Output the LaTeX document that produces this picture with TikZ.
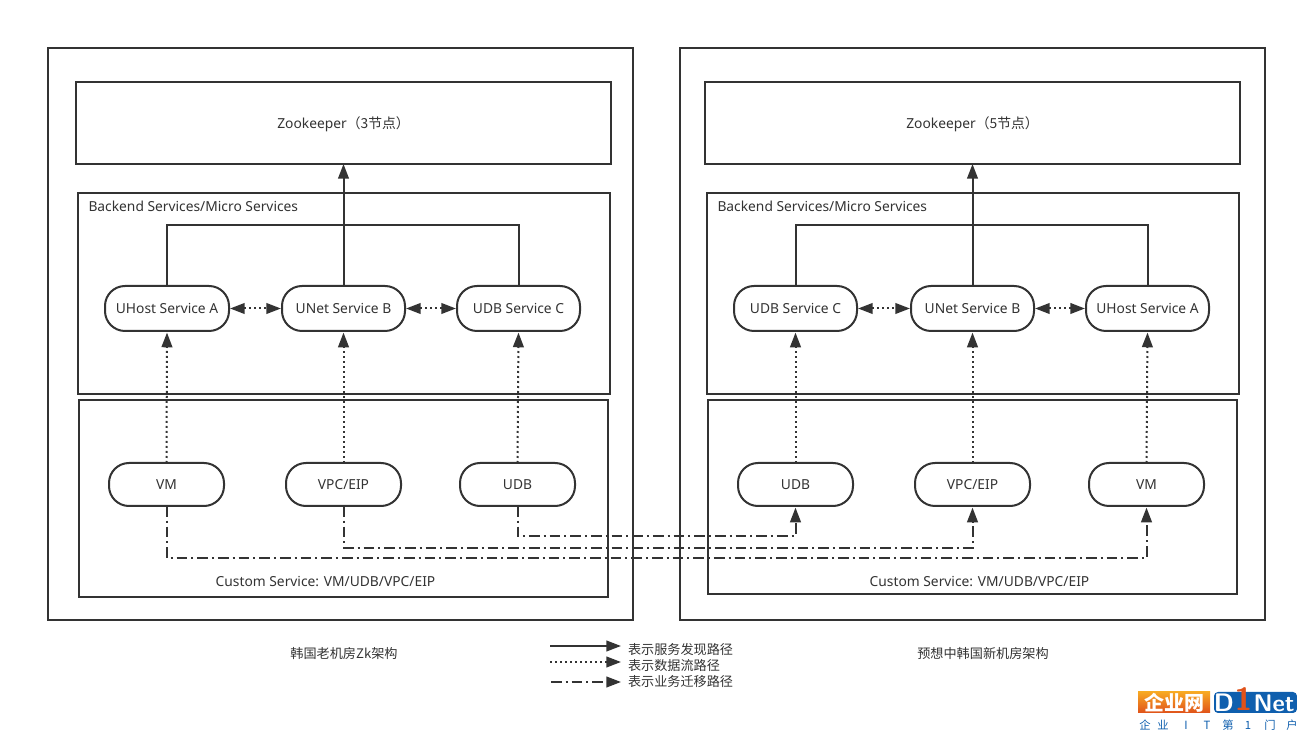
\documentclass[tikz,border=0pt]{standalone}
\usepackage{fontspec}
\setmainfont{Noto Sans}
\newfontfamily\cjk{Noto Sans CJK SC}
\usetikzlibrary{arrows.meta,calc}
\definecolor{ink}{HTML}{333333}
\definecolor{logoblue}{HTML}{0F5FAE}
\definecolor{logoorange}{HTML}{E0521A}
\definecolor{logoyellow}{HTML}{F7A823}
\newcommand{\bx}[7]{%
  \pgfmathsetmacro{\bw}{(#4-#2)*0.75}\pgfmathsetmacro{\bh}{(#5-#3)*0.75}%
  \node[#6,minimum width=\bw pt,minimum height=\bh pt] (#1) at ({(#2+#4)/2},{(#3+#5)/2}) {#7};}
\newcommand{\zk}[1]{\raisebox{-4.3pt}[0pt][0pt]{Zookeeper{\cjk （#1节点）}}}
\tikzset{
  x=0.75pt,y=-0.75pt,
  every node/.style={text=ink,font=\fontsize{10.35pt}{12pt}\selectfont,inner sep=0pt,outer sep=0pt},
  boxnode/.style={draw=ink,line width=1.5pt,fill=white,rectangle},
  pill/.style={draw=ink,line width=1.5pt,fill=white,rectangle,rounded corners=15pt},
  lab/.style={anchor=west},
  wire/.style={draw=ink,line width=1.5pt},
  tip/.style={-{Triangle[length=11pt,width=8pt]},shorten >=1.2pt},
  dots/.style={line width=1.5pt,dash pattern=on 1.5pt off 2.25pt},
  dashdot/.style={line width=1.5pt,dash pattern=on 8pt off 3pt on 1.5pt off 3pt},
  cn/.style={font=\fontsize{9.85pt}{11pt}\cjk\selectfont},
}
\begin{document}
\begin{tikzpicture}
\useasboundingbox (0,0) rectangle (1297,730);
% outer frames
\bx{outerL}{48}{48}{633}{620}{boxnode}{}
\bx{outerR}{680}{48}{1265}{620}{boxnode}{}
% left inner boxes
\bx{zooL}{76}{82}{611}{164}{boxnode}{\zk{3}}
\bx{backL}{78}{193}{610}{394}{boxnode}{}
\bx{custL}{79}{400}{608}{597}{boxnode}{}
% right inner boxes
\bx{zooR}{705}{82}{1240}{164}{boxnode}{\zk{5}}
\bx{backR}{707}{193}{1239}{394}{boxnode}{}
\bx{custR}{708}{400}{1237}{594}{boxnode}{}
\node[lab] (backLabL) at (88.5,206.5) {Backend Services/Micro Services};
\node[lab] (backLabR) at (717.5,206.5) {Backend Services/Micro Services};
\node (custLabL) at (325.5,582) {Custom Service: VM/UDB/VPC/EIP};
\node (custLabR) at (979.5,582) {Custom Service: VM/UDB/VPC/EIP};
% left services
\bx{hostL}{105}{286}{229}{331}{pill}{UHost Service A}
\bx{netL}{282}{286}{405}{331}{pill}{UNet Service B}
\bx{dbL}{457}{286}{580}{331}{pill}{UDB Service C}
\bx{vmL}{109}{463}{224}{506}{pill}{VM}
\bx{vpcL}{286}{463}{401}{506}{pill}{VPC/EIP}
\bx{udbL}{460}{463}{575}{506}{pill}{UDB}
% right services
\bx{dbR}{734}{286}{857}{331}{pill}{UDB Service C}
\bx{netR}{911}{286}{1034}{331}{pill}{UNet Service B}
\bx{hostR}{1086}{286}{1209}{331}{pill}{UHost Service A}
\bx{udbR}{738}{463}{853}{506}{pill}{UDB}
\bx{vpcR}{915}{463}{1030}{506}{pill}{VPC/EIP}
\bx{vmR}{1089}{463}{1204}{506}{pill}{VM}
% discovery paths
\draw[wire,tip,shorten >=0pt] (netL.north) -- (netL.north |- zooL.south);
\draw[wire] (hostL.north) -- ++(0,-61) -| (dbL.north);
\draw[wire,tip,shorten >=0pt] (netR.north) -- (netR.north |- zooR.south);
\draw[wire] (dbR.north) -- ++(0,-61) -| (hostR.north);
% data paths
\foreach \a/\b in {vmL/hostL,vpcL/netL,udbL/dbL,udbR/dbR,vpcR/netR,vmR/hostR}
  \draw[draw=ink,dots,tip] (\a.north) -- (\b.south);
\foreach \a/\b in {hostL/netL,netL/dbL,dbR/netR,netR/hostR}
  \draw[draw=ink,dots,{Triangle[length=11pt,width=8pt]}-{Triangle[length=11pt,width=8pt]},shorten >=0.8pt,shorten <=0.8pt] (\a.east) -- (\b.west);
% migration paths
\draw[draw=ink,dashdot,tip] (udbL.south) -- ++(0,30) -| (udbR.south);
\draw[draw=ink,dashdot,tip] (vpcL.south) -- ++(0,42) -| (vpcR.south);
\draw[draw=ink,dashdot,tip] (vmL.south) -- ++(0,52) -| (vmR.south);
% captions
\node[cn] (capL) at (344,653.5) {韩国老机房Zk架构};
\node[cn] (capR) at (983,653.5) {预想中韩国新机房架构};
% legend
\coordinate (la1) at (550,646); \coordinate (la2) at (621,646);
\coordinate (lb1) at (550,662); \coordinate (lb2) at (621,662);
\coordinate (lc1) at (551,682); \coordinate (lc2) at (621,682);
\draw[wire,tip,shorten >=0pt] (la1) -- (la2);
\draw[draw=ink,dots,tip,shorten >=0pt] (lb1) -- (lb2);
\draw[draw=ink,dashdot,tip,shorten >=0pt] (lc1) -- (lc2);
\node[cn,lab] (lt1) at (628,649.5) {表示服务发现路径};
\node[cn,lab] (lt2) at (628,665.5) {表示数据流路径};
\node[cn,lab] (lt3) at (628,681.5) {表示业务迁移路径};
% logo
\path[top color=logoyellow,bottom color=logoorange] (1138,692) rectangle (1210,713);
\node[font=\fontsize{15pt}{15pt}\cjk\bfseries\selectfont,text=white] (lg1) at (1174,702.5) {企业网};
\fill[logoblue,rounded corners=3pt] (1214,692) rectangle (1297,713);
\node[font=\fontsize{19pt}{19pt}\sffamily\bfseries\selectfont,text=white] (lg2) at (1224,703) {D};
\node[font=\fontsize{18pt}{18pt}\sffamily\bfseries\selectfont,text=white] (lg3) at (1274,703) {Net};
\node[font=\fontsize{24pt}{24pt}\sffamily\bfseries\selectfont,text=logoorange] (lg4) at (1243.5,699) {1};
\foreach \px/\ch in {1145/企,1163/业,1186/I,1207/T,1228/第,1248/1,1270/门,1292/户}
  \node[font=\fontsize{8.5pt}{9pt}\cjk\selectfont,text=logoblue] at (\px,725) {\ch};
\end{tikzpicture}
\end{document}
